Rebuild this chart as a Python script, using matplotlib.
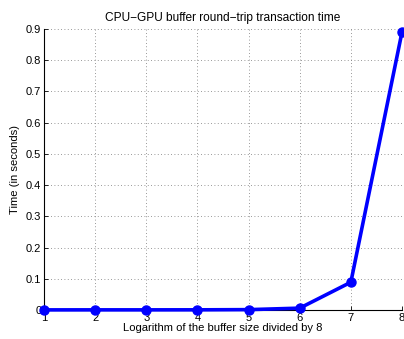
import matplotlib
matplotlib.use("Agg")
import matplotlib.pyplot as plt

# log2(buffer size / 8) vs round-trip time
log_size = [1, 2, 3, 4, 5, 6, 7, 8]
times = [0.0004, 0.0005, 0.0005, 0.0006, 0.0012, 0.006, 0.089, 0.89]

plt.rcParams["font.family"] = ["Liberation Sans", "DejaVu Sans"]

fig = plt.figure(figsize=(4.04, 3.39), dpi=100)
ax = fig.add_axes([0.109, 0.0855, 0.886, 0.829])

ax.plot(log_size, times, color="#0000ff", linewidth=2.6,
        marker="o", markersize=6.5, clip_on=False, zorder=3)

ax.set_xlim(1, 8)
ax.set_ylim(0, 0.9)
ax.set_xticks(range(1, 9))
ax.set_yticks([i / 10 for i in range(10)])
ax.set_yticklabels(["0"] + [f"{i / 10:.1f}" for i in range(1, 10)])

ax.grid(True, linestyle=(0, (1, 3)), color="#777777", linewidth=0.6)
ax.tick_params(direction="in", length=3, width=0.6, pad=2, labelsize=8)
for side in ["top", "right"]:
    ax.spines[side].set_visible(False)
for side in ["left", "bottom"]:
    ax.spines[side].set_linewidth(0.8)

ax.set_title("CPU\u2212GPU buffer round\u2212trip transaction time", fontsize=8.6, pad=6)
ax.set_xlabel("Logarithm of the buffer size divided by 8", fontsize=8.1, labelpad=0)
ax.set_ylabel("Time (in seconds)", fontsize=8.1, labelpad=4)

fig.savefig("out.png", dpi=100)
